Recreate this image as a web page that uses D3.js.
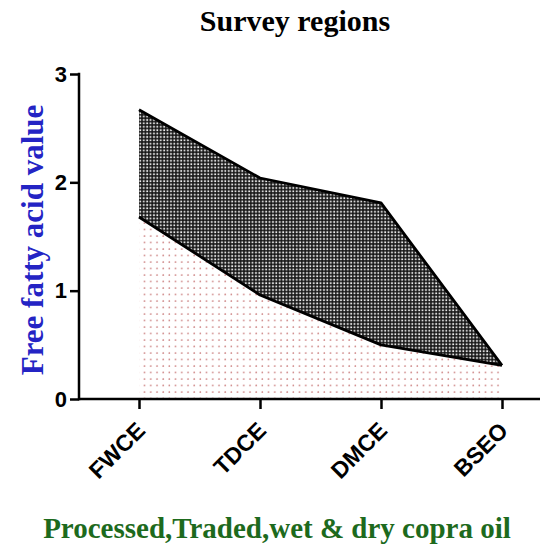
<!DOCTYPE html>
<html>
<head>
<meta charset="utf-8">
<script src="https://cdn.jsdelivr.net/npm/d3@7"></script>
<style>
  body { margin: 0; background: #fff; }
  .axis text { font-family: "Liberation Sans", Arial, sans-serif; font-weight: bold; fill: #000; }
  .axis line { stroke: #000; stroke-width: 2.5; }
</style>
</head>
<body>
<script>
// survey regions and free fatty acid values
var regions = ["FWCE", "TDCE", "DMCE", "BSEO"];
var upperValues = [2.67, 2.04, 1.81, 0.31];
var lowerValues = [1.68, 0.96, 0.50, 0.31];
var yTicks = [0, 1, 2, 3];

var width = 558, height = 555;

var svg = d3.select("body")
  .append("svg")
    .attr("width", width)
    .attr("height", height);

/******** Patterns *********/
var defs = svg.append("defs");

var checker = defs.append("pattern")
    .attr("id", "checker")
    .attr("patternUnits", "userSpaceOnUse")
    .attr("width", 3.4)
    .attr("height", 3.4);
checker.append("rect").attr("width", 3.4).attr("height", 3.4).attr("fill", "#333");
checker.append("rect").attr("x", 0.2).attr("y", 0.2).attr("width", 1.5).attr("height", 1.5).attr("fill", "#fafafa");
checker.append("rect").attr("x", 1.9).attr("y", 1.9).attr("width", 1.5).attr("height", 1.5).attr("fill", "#111");

var dots = defs.append("pattern")
    .attr("id", "reddots")
    .attr("patternUnits", "userSpaceOnUse")
    .attr("width", 6.2)
    .attr("height", 6.5);
dots.append("circle").attr("cx", 2).attr("cy", 2).attr("r", 0.85).attr("fill", "#c97a7a");

/******** Scales *********/
var x = d3.scalePoint()
  .domain(regions)
  .range([139, 502]);

var y = d3.scaleLinear()
  .domain([0, 3])
  .range([399, 74]);

var data = regions.map(function(r, i){
  return { region: r, upper: upperValues[i], lower: lowerValues[i] };
});

/******** Areas *********/
var lowerArea = d3.area()
  .x(function(d){ return x(d.region) })
  .y0(y(0))
  .y1(function(d){ return y(d.lower) });

var bandArea = d3.area()
  .x(function(d){ return x(d.region) })
  .y0(function(d){ return y(d.lower) })
  .y1(function(d){ return y(d.upper) });

svg.append("path")
  .attr("d", lowerArea(data))
  .attr("fill", "url(#reddots)");

svg.append("path")
  .attr("d", bandArea(data))
  .attr("fill", "url(#checker)");

var upperLine = d3.line()
  .x(function(d){ return x(d.region) })
  .y(function(d){ return y(d.upper) });

var lowerLine = d3.line()
  .x(function(d){ return x(d.region) })
  .y(function(d){ return y(d.lower) });

svg.append("path")
  .attr("d", upperLine(data))
  .attr("fill", "none")
  .attr("stroke", "#000")
  .attr("stroke-width", 2.8)
  .attr("stroke-linejoin", "round");

svg.append("path")
  .attr("d", lowerLine(data))
  .attr("fill", "none")
  .attr("stroke", "#000")
  .attr("stroke-width", 2.8)
  .attr("stroke-linejoin", "round");

/******** Axes *********/
var xAxis = svg.append("g")
    .attr("class", "axis")
    .attr("transform", "translate(0," + y(0) + ")")
    .call(d3.axisBottom(x).tickSize(10));
xAxis.select(".domain").remove();
xAxis.selectAll("text")
    .attr("font-size", "23px")
    .attr("text-anchor", "end")
    .attr("x", 0)
    .attr("y", 0)
    .attr("dy", "0")
    .attr("transform", "translate(7,33) rotate(-45)");

svg.append("line")
  .attr("x1", 79).attr("x2", 540)
  .attr("y1", y(0)).attr("y2", y(0))
  .attr("stroke", "#000")
  .attr("stroke-width", 2.5);

var yAxis = svg.append("g")
    .attr("class", "axis")
    .attr("transform", "translate(79,0)")
    .call(d3.axisLeft(y).tickValues(yTicks).tickFormat(d3.format("d")).tickSize(9).tickPadding(3));
yAxis.select(".domain").remove();
yAxis.selectAll("text").attr("font-size", "22px");

svg.append("line")
  .attr("x1", 79).attr("x2", 79)
  .attr("y1", y(3) - 1.2).attr("y2", y(0) + 1.2)
  .attr("stroke", "#000")
  .attr("stroke-width", 2.5);

/******** Titles *********/
svg.append("text")
  .attr("x", 295)
  .attr("y", 31)
  .attr("text-anchor", "middle")
  .attr("font-family", "Liberation Serif, Times New Roman, serif")
  .attr("font-weight", "bold")
  .attr("font-size", "30px")
  .text("Survey regions");

svg.append("text")
  .attr("transform", "translate(43,240) rotate(-90)")
  .attr("text-anchor", "middle")
  .attr("font-family", "Liberation Serif, Times New Roman, serif")
  .attr("font-weight", "bold")
  .attr("font-size", "31px")
  .attr("fill", "#2424c4")
  .text("Free fatty acid value");

svg.append("text")
  .attr("x", 277)
  .attr("y", 538)
  .attr("text-anchor", "middle")
  .attr("font-family", "Liberation Serif, Times New Roman, serif")
  .attr("font-weight", "bold")
  .attr("font-size", "29px")
  .attr("fill", "#1d6a1d")
  .text("Processed,Traded,wet & dry copra oil");
</script>
</body>
</html>
